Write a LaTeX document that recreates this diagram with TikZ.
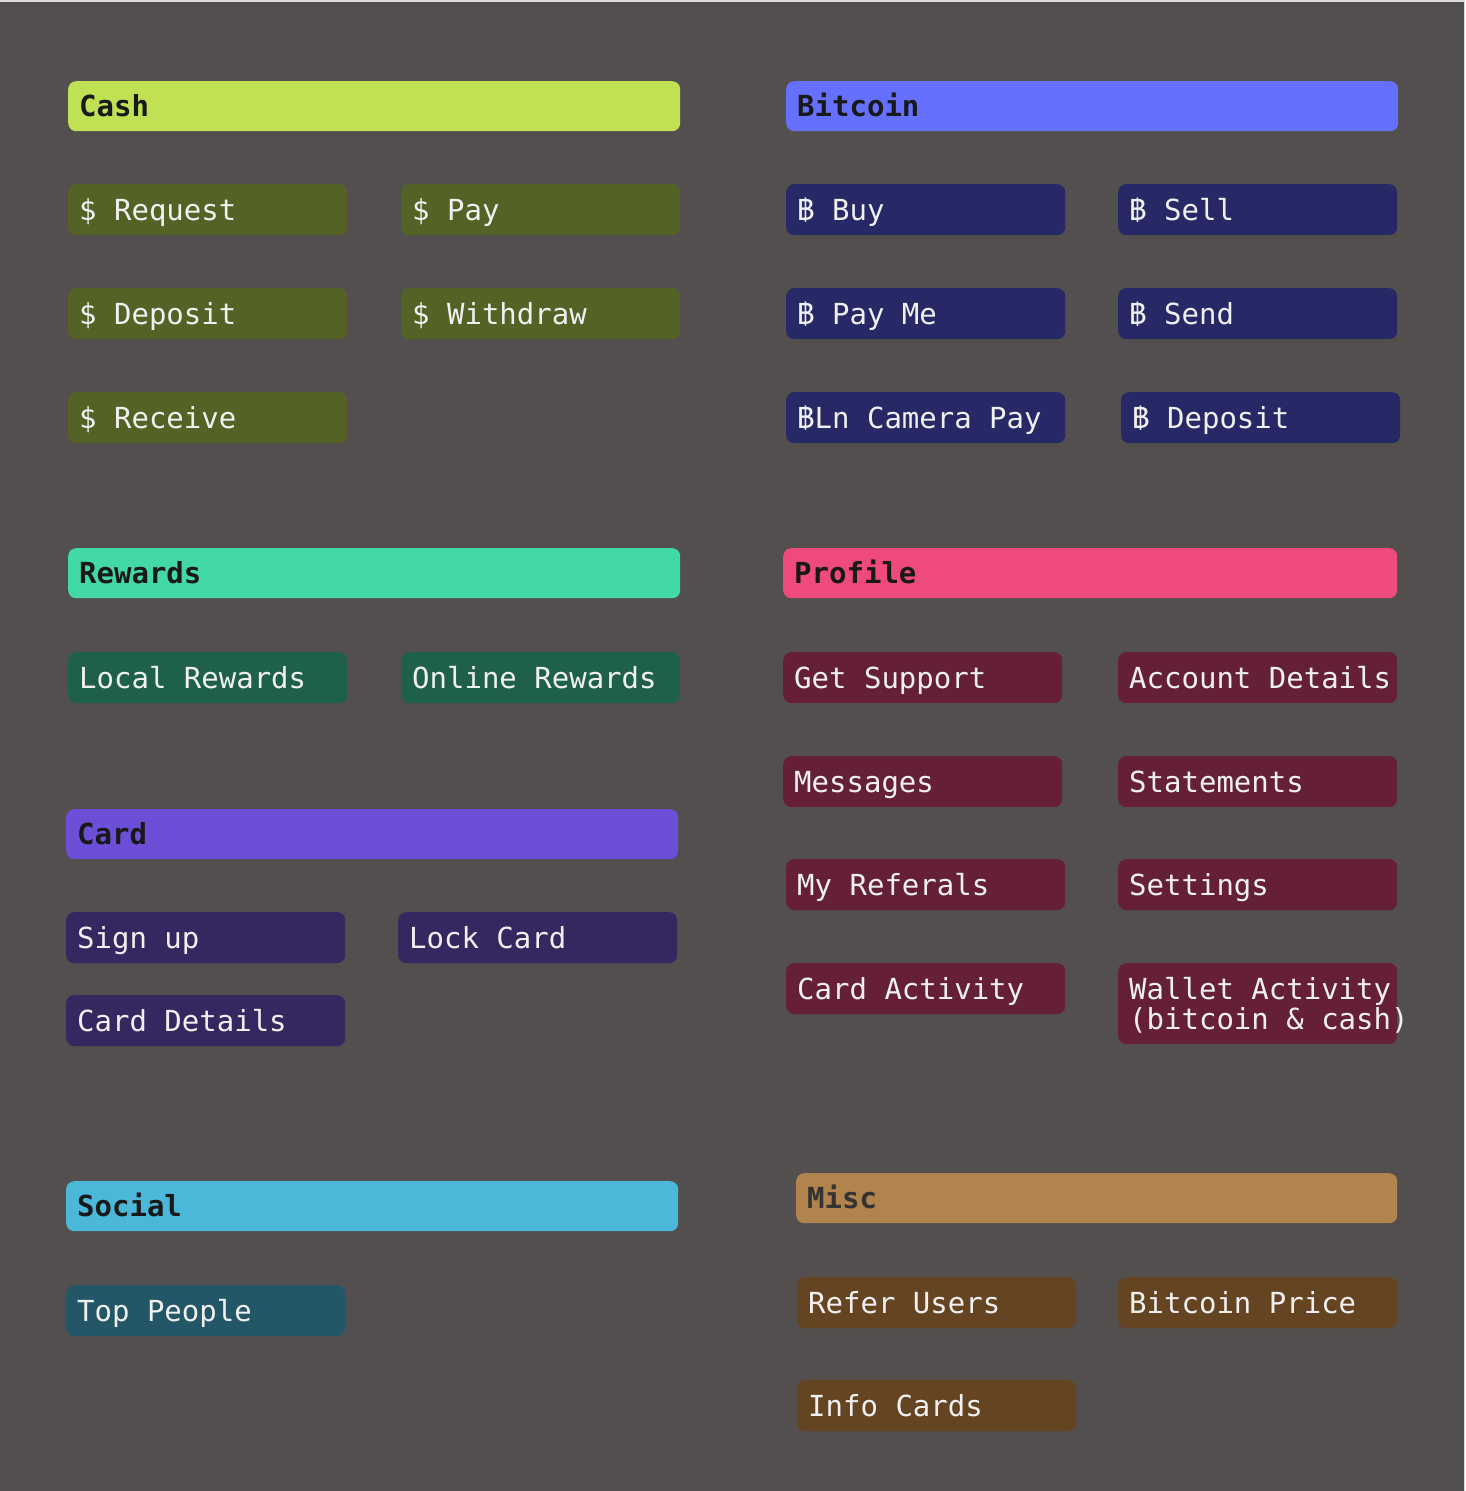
\documentclass[tikz,border=0pt]{standalone}
\usepackage{fontspec}
\setmonofont{DejaVu Sans Mono}
\newfontfamily\thaifont[Script=Thai]{Loma}
\usepackage{tikz}
\usetikzlibrary{positioning}
\definecolor{bg}{HTML}{524F4E}
\definecolor{cashhead}{HTML}{BFE153}
\definecolor{cashitem}{HTML}{556226}
\definecolor{btchead}{HTML}{6670FF}
\definecolor{btcitem}{HTML}{262966}
\definecolor{rewhead}{HTML}{42D9A4}
\definecolor{rewitem}{HTML}{1F6148}
\definecolor{profhead}{HTML}{EE4A7B}
\definecolor{profitem}{HTML}{652037}
\definecolor{cardhead}{HTML}{6D4ED6}
\definecolor{carditem}{HTML}{372760}
\definecolor{sochead}{HTML}{4CB8D9}
\definecolor{socitem}{HTML}{235667}
\definecolor{mischead}{HTML}{B0844C}
\definecolor{miscitem}{HTML}{654421}
\newcommand{\btc}{\makebox[0.602em][c]{\thaifont ฿}}
\begin{document}
\begin{tikzpicture}[x=1pt, y=-1pt,
			base/.style={rectangle, rounded corners=8pt, anchor=north west,
				inner xsep=11pt, inner ysep=0pt, align=flush left,
				font=\ttfamily\fontsize{29}{30}\selectfont,
				text height=21pt, text depth=0pt},
			head/.style={base, fill=#1, text=black!90,
				text width=590pt, minimum height=50pt, font=\ttfamily\bfseries\fontsize{29}{30}\selectfont},
			item/.style={base, fill=#1, text=white!94!black,
				text width=257pt, minimum height=51pt}
			]
			\fill[bg] (0,0) rectangle (1465,1491);
			\useasboundingbox (0,0) rectangle (1465,1491);
			\draw[white!80!bg, line width=1.5pt] (0,0.75) -- (1464.25,0.75) -- (1464.25,1491);
			
			% cash
			\node[head=cashhead] (cash)    at (68, 81)  {Cash};
			\node[item=cashitem] (cashreq) at (68, 184) {\$ Request};
			\node[item=cashitem] (cashpay) at (401,184) {\$ Pay};
			\node[item=cashitem] (cashdep) at (68, 288) {\$ Deposit};
			\node[item=cashitem] (cashwdr) at (401,288) {\$ Withdraw};
			\node[item=cashitem] (cashrcv) at (68, 392) {\$ Receive};
			
			% bitcoin
			\node[head=btchead] (btc)      at (786, 81)  {Bitcoin};
			\node[item=btcitem] (btcbuy)   at (786, 184) {\btc{} Buy};
			\node[item=btcitem] (btcsell)  at (1118,184) {\btc{} Sell};
			\node[item=btcitem] (btcpayme) at (786, 288) {\btc{} Pay Me};
			\node[item=btcitem] (btcsend)  at (1118,288) {\btc{} Send};
			\node[item=btcitem] (btcln)    at (786, 392) {\btc{}Ln Camera Pay};
			\node[item=btcitem] (btcdep)   at (1121,392) {\btc{} Deposit};
			
			% rewards
			\node[head=rewhead] (rew)       at (68, 548) {Rewards};
			\node[item=rewitem] (rewlocal)  at (68, 652) {Local Rewards};
			\node[item=rewitem] (rewonline) at (401,652) {Online Rewards};
			
			% card
			\node[head=cardhead] (card)     at (66, 809) {Card};
			\node[item=carditem] (cardsign) at (66, 912) {Sign up};
			\node[item=carditem] (cardlock) at (398,912) {Lock Card};
			\node[item=carditem] (carddet)  at (66, 995) {Card Details};
			
			% social
			\node[head=sochead] (soc)    at (66,1181) {Social};
			\node[item=socitem] (soctop) at (66,1285) {Top People};
			
			% profile
			\node[head=profhead, text width=592pt] (prof) at (783,548) {Profile};
			\node[item=profitem] (profsup)  at (783, 652) {Get Support};
			\node[item=profitem] (profacc)  at (1118,652) {\mbox{Account Details}};
			\node[item=profitem] (profmsg)  at (783, 756) {Messages};
			\node[item=profitem] (profstm)  at (1118,756) {Statements};
			\node[item=profitem] (profref)  at (786, 859) {My Referals};
			\node[item=profitem] (profset)  at (1118,859) {Settings};
			\node[item=profitem] (profcard) at (786, 963) {Card Activity};
			\node[item=profitem, minimum height=81pt, text depth=30pt] (profwal) at (1118,963)
				{\mbox{Wallet Activity}\\\mbox{(bitcoin \& cash)}};
			
			% misc
			\node[head=mischead, text width=579pt, text=black!80] (misc) at (796,1173) {Misc};
			\node[item=miscitem] (miscref)   at (797, 1277) {Refer Users};
			\node[item=miscitem] (miscprice) at (1118,1277) {Bitcoin Price};
			\node[item=miscitem] (miscinfo)  at (797, 1380) {Info Cards};
		\end{tikzpicture}
\end{document}
